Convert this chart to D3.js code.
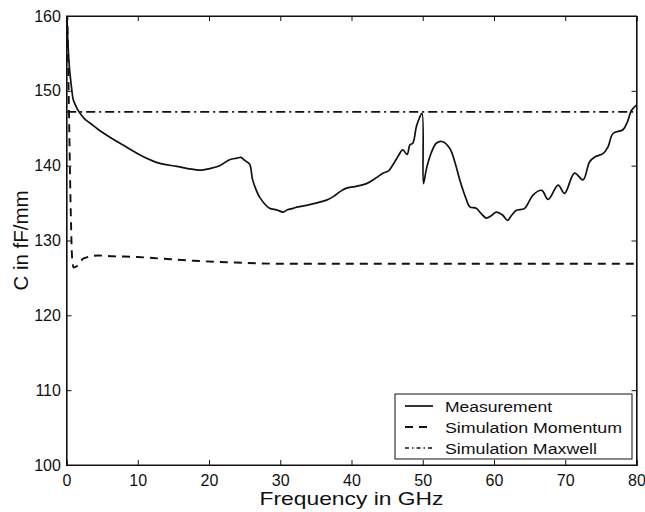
<!DOCTYPE html>
<html>
<head>
<meta charset="utf-8">
<script src="https://cdn.jsdelivr.net/npm/d3@7"></script>
<style>
  html, body { margin: 0; padding: 0; background: #fff; }
  svg { display: block; }
  text { font-family: "Liberation Sans", Arial, Helvetica, sans-serif; fill: #111; }
</style>
</head>
<body>
<svg id="chart" width="645" height="512"></svg>
<script>
// ---- data ----
const xTicks = [0, 10, 20, 30, 40, 50, 60, 70, 80];
const yTicks = [100, 110, 120, 130, 140, 150, 160];

const measX = [0.05, 0.2, 0.4, 0.7, 0.95, 1.4, 1.9, 2.6, 3.3, 4.5, 6.1, 8.4, 10.8, 13.1, 15.5, 17.8, 19.0, 20.1, 21.5, 22.9, 23.9, 24.5, 25.0, 25.7, 26.1, 26.6, 27.1, 28.5, 29.5, 30.4, 31.0, 31.8, 32.5, 33.7, 35.0, 36.5, 37.5, 38.5, 39.3, 40.5, 42.1, 43.5, 44.4, 45.2, 45.8, 46.5, 47.2, 47.8, 48.2, 48.6, 49.1, 49.5, 49.9, 50.1, 50.5, 51.0, 51.9, 52.8, 53.8, 54.5, 55.2, 56.0, 56.6, 57.5, 58.2, 58.9, 59.6, 60.3, 61.2, 61.9, 62.5, 63.1, 64.3, 65.5, 66.7, 67.6, 69.0, 69.9, 71.3, 72.5, 73.4, 74.2, 75.3, 76.0, 76.7, 78.1, 78.7, 79.3, 80.0];
const measY = [160.5, 156.5, 153.2, 150.5, 148.8, 147.8, 147.0, 146.2, 145.7, 144.8, 143.8, 142.5, 141.2, 140.3, 139.9, 139.5, 139.4, 139.6, 140.0, 140.8, 141.0, 141.1, 140.7, 140.2, 138.2, 136.8, 135.8, 134.3, 134.1, 133.8, 134.1, 134.3, 134.5, 134.7, 135.0, 135.4, 135.9, 136.6, 137.0, 137.2, 137.6, 138.4, 139.0, 139.3, 140.1, 141.2, 142.1, 141.5, 142.8, 143.0, 145.2, 146.3, 147.0, 137.6, 139.5, 141.2, 143.0, 143.2, 142.3, 140.5, 138.1, 135.8, 134.5, 134.3, 133.6, 133.0, 133.3, 133.8, 133.4, 132.7, 133.4, 134.0, 134.3, 136.1, 136.7, 135.5, 137.4, 136.3, 139.0, 138.1, 140.5, 141.2, 141.6, 142.5, 144.3, 144.8, 145.8, 147.4, 148.1];

const momX = [0.1, 0.3, 0.55, 0.8, 1.0, 1.5, 2.4, 4.4, 6.4, 10.0, 13.1, 17.8, 22.5, 30.0, 80.0];
const momY = [160.5, 150.0, 136.0, 127.5, 126.4, 126.6, 127.6, 128.0, 127.9, 127.8, 127.6, 127.3, 127.1, 126.9, 126.9];

const maxX = [0.1, 80.0];
const maxY = [147.2, 147.2];

const seriesNames = ["Measurement", "Simulation Momentum", "Simulation Maxwell"];
const xTitle = "Frequency in GHz";
const yTitle = "C in fF/mm";

// ---- layout ----
const L = 66.5, R = 636.5, T = 16, B = 465;
const svg = d3.select("#chart");
const x = d3.scaleLinear().domain([0, 80]).range([L, R]);
const y = d3.scaleLinear().domain([100, 160]).range([B, T]);

svg.append("defs").append("clipPath").attr("id", "clip")
  .append("rect").attr("x", L).attr("y", T).attr("width", R - L).attr("height", B - T);

// frame
svg.append("rect").attr("x", L).attr("y", T).attr("width", R - L).attr("height", B - T)
  .attr("fill", "none").attr("stroke", "#111").attr("stroke-width", 1);

// axes
const fontSize = 16;
const xAxis = svg.append("g").attr("transform", `translate(0,${B})`)
  .call(d3.axisBottom(x).tickValues(xTicks).tickSize(-5).tickPadding(10).tickFormat(d3.format("d")));
const yAxis = svg.append("g").attr("transform", `translate(${L},0)`)
  .call(d3.axisLeft(y).tickValues(yTicks).tickSize(-5).tickPadding(4).tickFormat(d3.format("d")));
const xTop = svg.append("g").attr("transform", `translate(0,${T})`)
  .call(d3.axisTop(x).tickValues(xTicks).tickSize(-5).tickFormat(""));
const yRight = svg.append("g").attr("transform", `translate(${R},0)`)
  .call(d3.axisRight(y).tickValues(yTicks).tickSize(-5).tickFormat(""));
[xAxis, yAxis, xTop, yRight].forEach(g => {
  g.select(".domain").attr("stroke", "#111").attr("stroke-width", 1.2);
  g.selectAll(".tick line").attr("stroke", "#111").attr("stroke-width", 1);
  g.selectAll("text").attr("font-size", fontSize).attr("font-family", "Liberation Sans, Arial, sans-serif").attr("fill", "#111");
});
yAxis.selectAll("text").attr("dx", "-0.1em");

// axis titles
svg.append("text").attr("x", x(40)).attr("y", 505).attr("text-anchor", "middle")
  .attr("font-size", 19).attr("textLength", 184).attr("lengthAdjust", "spacingAndGlyphs")
  .text(xTitle);
svg.append("text").attr("transform", `translate(28,${(T + B) / 2}) rotate(-90)`).attr("text-anchor", "middle")
  .attr("font-size", 20).attr("textLength", 100).attr("lengthAdjust", "spacingAndGlyphs")
  .text(yTitle);

// lines
const plot = svg.append("g").attr("clip-path", "url(#clip)");
const styles = [
  { dash: null, w: 1.7, curve: d3.curveCatmullRom.alpha(0.5) },
  { dash: "8,6", w: 1.9, curve: d3.curveMonotoneX },
  { dash: "9,4,2,4", w: 1.7, curve: d3.curveLinear }
];
const data = [
  d3.zip(measX, measY),
  d3.zip(momX, momY),
  d3.zip(maxX, maxY)
];
// draw maxwell & momentum first, measurement on top
[2, 1, 0].forEach(i => {
  const line = d3.line().x(d => x(d[0])).y(d => y(d[1])).curve(styles[i].curve);
  plot.append("path").datum(data[i]).attr("d", line)
    .attr("fill", "none").attr("stroke", "#111").attr("stroke-width", styles[i].w)
    .attr("stroke-dasharray", styles[i].dash).attr("stroke-linejoin", "round");
});

// legend
const lg = svg.append("g");
lg.append("rect").attr("x", 395).attr("y", 394).attr("width", 237).attr("height", 65)
  .attr("fill", "#fff").attr("stroke", "#111").attr("stroke-width", 1);
const rowsY = [406, 427, 448];
const textLens = [107, 177, 152];
const legendDash = [null, "8,6", "4,3,1.5,3"];
seriesNames.forEach((name, i) => {
  lg.append("line").attr("x1", 405).attr("x2", 433).attr("y1", rowsY[i]).attr("y2", rowsY[i])
    .attr("stroke", "#111").attr("stroke-width", styles[i].w).attr("stroke-dasharray", legendDash[i]);
  lg.append("text").attr("x", 445).attr("y", rowsY[i] + 5.5).attr("font-size", 15.5)
    .attr("textLength", textLens[i]).attr("lengthAdjust", "spacingAndGlyphs").text(name);
});
</script>
</body>
</html>
